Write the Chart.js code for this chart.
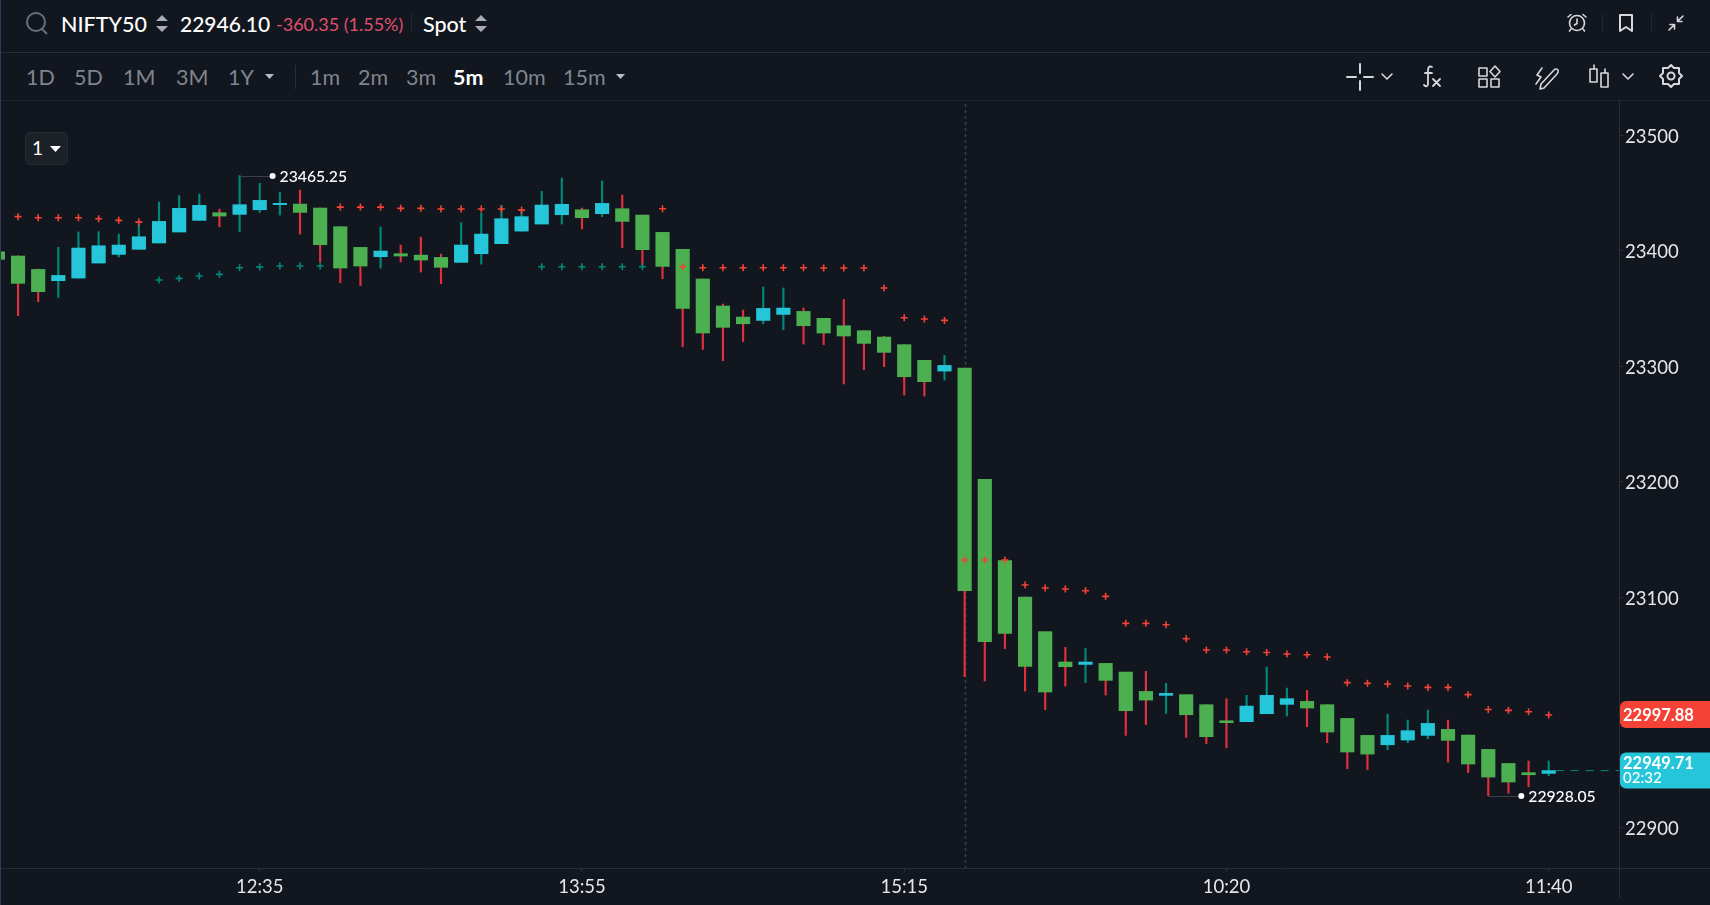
<!DOCTYPE html>
<html>
<head>
<meta charset="utf-8">
<title>NIFTY50</title>
<script src="https://cdn.jsdelivr.net/npm/chart.js@4"></script>
<style>
  html, body { margin: 0; padding: 0; width: 1710px; height: 905px; overflow: hidden; background: #12161e; }
  body { position: relative; font-family: Lato, sans-serif; color: #fff; }
  #edge { position: absolute; left: 0; top: 0; width: 1px; height: 905px; background: #35355e; z-index: 5; }
  #row1 { position: absolute; left: 0; top: 0; width: 1710px; height: 52px; border-bottom: 1px solid #2a2e36; }
  #row2 { position: absolute; left: 0; top: 53px; width: 1710px; height: 47px; border-bottom: 1px solid #1d2128; }
  .t { position: absolute; white-space: nowrap; line-height: 24px; }
  .head { top: 12px; font-size: 21.5px; font-weight: 500; }
  .tf { top: 12px; font-size: 21.5px; color: #7f858f; }
  svg { position: absolute; overflow: visible; }
  .ic { fill: none; stroke: #d5d8dc; stroke-width: 1.6; stroke-linecap: round; stroke-linejoin: round; }
  #chartWrap { position: absolute; left: 0; top: 100px; width: 1710px; height: 805px; }
  #badge { position: absolute; left: 25px; top: 132px; width: 41px; height: 31px; background: #1c2128; border: 1px solid #262b33; border-radius: 5px; z-index: 3; }
</style>
</head>
<body>
<div id="edge"></div>

<div id="row1">
  <svg style="left:0;top:0" width="60" height="52"><circle cx="36" cy="22" r="9" fill="none" stroke="#6b7078" stroke-width="2"/><line x1="42" y1="29" x2="47" y2="34" stroke="#6b7078" stroke-width="2"/></svg>
  <span class="t head" style="left:61px">NIFTY50</span>
  <svg style="left:155px;top:15px" width="16" height="20"><path d="M1 6 L7 0 L13 6 Z M1 11 L13 11 L7 17 Z" fill="#a9adb3"/></svg>
  <span class="t head" style="left:180px;font-size:21px">22946.10</span>
  <span class="t" style="left:276px;top:12px;font-size:18px;color:#e0506e">-360.35 (1.55%)</span>
  <div style="position:absolute;left:411px;top:14px;width:1px;height:18px;background:#23272e"></div>
  <span class="t head" style="left:423px">Spot</span>
  <svg style="left:474px;top:15px" width="16" height="20"><path d="M1 6 L7 0 L13 6 Z M1 11 L13 11 L7 17 Z" fill="#a9adb3"/></svg>

  <svg class="ic" style="left:1567px;top:13px" width="20" height="20"><circle cx="10" cy="10" r="7.5"/><path d="M10 6 V10.5 L7.5 12 M1 4 L4 1.5 M19 4 L16 1.5 M4 16 L2.5 18 M16 16 L17.5 18"/></svg>
  <div style="position:absolute;left:1602px;top:14px;width:1px;height:18px;background:#23272e"></div>
  <svg class="ic" style="left:1619px;top:14px" width="14" height="18" ><path d="M1 1 H13 V17 L7 13 L1 17 Z" stroke-width="2"/></svg>
  <div style="position:absolute;left:1651px;top:14px;width:1px;height:18px;background:#23272e"></div>
  <svg class="ic" style="left:1668px;top:15px" width="16" height="16"><path d="M1 15 L6.5 9.5 M6.5 14 V9.5 H2 M15 1 L9.5 6.5 M9.5 2 V6.5 H14"/></svg>
</div>

<div id="row2">
  <span class="t tf" style="left:26px">1D</span>
  <span class="t tf" style="left:74px">5D</span>
  <span class="t tf" style="left:123px">1M</span>
  <span class="t tf" style="left:176px">3M</span>
  <span class="t tf" style="left:228px">1Y</span>
  <svg style="left:264px;top:20px" width="12" height="8"><path d="M1 1 H10 L5.5 6 Z" fill="#b9bcc1"/></svg>
  <div style="position:absolute;left:295px;top:12px;width:1px;height:24px;background:#2a2e36"></div>
  <span class="t tf" style="left:310px">1m</span>
  <span class="t tf" style="left:358px">2m</span>
  <span class="t tf" style="left:406px">3m</span>
  <span class="t tf" style="left:453px;color:#fff;font-weight:700">5m</span>
  <span class="t tf" style="left:503px">10m</span>
  <span class="t tf" style="left:563px">15m</span>
  <svg style="left:615px;top:20px" width="12" height="8"><path d="M1 1 H10 L5.5 6 Z" fill="#b9bcc1"/></svg>

  <svg class="ic" style="left:1347px;top:11px" width="26" height="26"><path d="M0 13 H9 M17 13 H26 M13 0 V9 M13 17 V26" stroke-width="2"/></svg>
  <svg class="ic" style="left:1381px;top:20px" width="12" height="8"><path d="M1 1 L6 6 L11 1"/></svg>
  <svg class="ic" style="left:1423px;top:12px" width="20" height="24"><path d="M9 2 C6 0 5 3 5 6 V18 C5 22 3 22 1 20 M2 8 H9 M10 14 L17 21 M17 14 L10 21" stroke-width="1.8"/></svg>
  <svg class="ic" style="left:1478px;top:12px" width="24" height="24"><rect x="1" y="3" width="8" height="8"/><rect x="1" y="14" width="8" height="8"/><rect x="13" y="14" width="8" height="8"/><path d="M17 1 L22 6.5 L17 12 L12 6.5 Z"/></svg>
  <svg class="ic" style="left:1534px;top:12px" width="26" height="26"><path d="M7 19 L20 5 Q22 3 24 5 Q25 7 23 9 L10 23 L6 24 Z M8 3 L3 10 L7 12 L2 19"/></svg>
  <svg class="ic" style="left:1589px;top:11px" width="22" height="26"><path d="M5 1 V5 M16 5 V9"/><rect x="1" y="5" width="7" height="13"/><rect x="12" y="9" width="7" height="14"/></svg>
  <svg class="ic" style="left:1622px;top:20px" width="12" height="8"><path d="M1 1 L6 6 L11 1"/></svg>
  <svg class="ic" style="left:1659px;top:11px" width="24" height="24"><path d="M12 1 L15 4 H20 V9 L23 12 L20 15 V20 H15 L12 23 L9 20 H4 V15 L1 12 L4 9 V4 H9 Z" stroke-width="2"/><circle cx="12" cy="12" r="3.5" stroke-width="2"/></svg>
</div>

<div id="chartWrap"><canvas id="priceChart" width="1710" height="805"></canvas></div>

<div id="badge">
  <span class="t" style="left:6px;top:3px;font-size:19px">1</span>
  <svg style="left:23px;top:12px" width="13" height="8"><path d="M1 1 H12 L6.5 7 Z" fill="#fff"/></svg>
</div>

<script>
const times = [
  "11:30","11:35","11:40","11:45","11:50","11:55","12:00","12:05","12:10","12:15",
  "12:20","12:25","12:30","12:35","12:40","12:45","12:50","12:55","13:00","13:05",
  "13:10","13:15","13:20","13:25","13:30","13:35","13:40","13:45","13:50","13:55",
  "14:00","14:05","14:10","14:15","14:20","14:25","14:30","14:35","14:40","14:45",
  "14:50","14:55","15:00","15:05","15:10","15:15","15:20","15:25","09:15","09:20",
  "09:25","09:30","09:35","09:40","09:45","09:50","09:55","10:00","10:05","10:10",
  "10:15","10:20","10:25","10:30","10:35","10:40","10:45","10:50","10:55","11:00",
  "11:05","11:10","11:15","11:20","11:25","11:30","11:35","11:40"
];

const opens = [
  23399.3,23395.6,23384.0,23374.2,23376.5,23389.5,23397.0,23401.4,23406.9,23416.4,
  23426.5,23433.1,23431.7,23435.7,23440.1,23440.6,23437.2,23421.0,23403.1,23395.0,
  23397.6,23396.4,23394.4,23390.1,23397.6,23406.3,23417.2,23423.3,23431.4,23435.7,
  23432.3,23436.6,23431.1,23416.1,23401.4,23375.7,23352.3,23342.7,23339.8,23345.0,
  23347.6,23341.6,23335.2,23330.9,23325.4,23318.8,23305.2,23295.9,23298.5,23202.1,
  23131.6,23100.1,23070.1,23043.8,23041.7,23042.6,23035.1,23018.3,23014.9,23015.5,
  23006.8,22992.9,22992.1,22999.0,23007.1,23009.7,23006.8,22994.9,22980.2,22972.1,
  22976.2,22980.2,22985.4,22980.5,22968.1,22955.9,22947.9,22947.3
];
const highs = [
  23400.0,23395.9,23384.4,23403.1,23416.4,23416.7,23414.6,23423.3,23442.4,23447.9,
  23449.3,23436.3,23465.25,23458.6,23451.0,23452.8,23437.2,23421.0,23403.1,23420.7,
  23405.1,23412.0,23397.3,23424.5,23432.6,23439.5,23434.0,23451.6,23463.2,23437.2,
  23460.6,23448.4,23431.1,23416.1,23401.4,23375.7,23354.0,23348.8,23368.7,23367.9,
  23350.5,23341.6,23358.0,23330.9,23326.0,23318.8,23305.2,23309.5,23298.5,23202.1,
  23131.6,23100.1,23070.1,23056.5,23055.6,23042.6,23035.1,23035.7,23025.3,23015.5,
  23006.8,23012.0,23014.9,23039.4,23021.2,23019.2,23006.8,22994.9,22980.2,22998.7,
  22993.5,23002.2,22993.5,22980.5,22968.1,22955.9,22958.0,22958.0
];
const lows = [
  23392.7,23343.9,23356.0,23359.8,23376.5,23389.5,23394.7,23401.4,23406.9,23416.4,
  23426.5,23421.0,23416.7,23433.4,23431.1,23414.6,23390.4,23372.5,23369.9,23385.2,
  23390.4,23381.7,23371.6,23390.1,23388.6,23406.3,23417.2,23423.3,23423.3,23419.0,
  23429.7,23402.8,23386.3,23375.9,23317.0,23314.7,23304.9,23321.6,23336.9,23331.7,
  23319.3,23318.8,23284.7,23297.1,23299.7,23275.1,23274.3,23288.1,23031.1,23027.3,
  23055.3,23018.6,23002.5,23023.0,23025.9,23015.2,22980.2,22989.5,22999.3,22978.5,
  22973.0,22969.5,22992.1,22999.0,22997.0,22987.7,22973.9,22951.3,22950.5,22967.8,
  22973.9,22977.3,22957.1,22947.9,22928.05,22930.2,22935.7,22945.3
];
const closes = [
  23392.7,23371.9,23364.7,23378.8,23402.5,23404.5,23405.1,23412.3,23425.6,23436.9,
  23439.5,23430.2,23440.1,23443.8,23441.2,23433.4,23405.4,23385.2,23386.9,23399.9,
  23395.6,23392.1,23385.8,23405.1,23414.6,23427.9,23429.7,23439.8,23440.4,23428.8,
  23441.2,23425.6,23401.1,23386.6,23350.2,23328.9,23333.8,23336.9,23350.2,23350.5,
  23335.2,23328.9,23326.3,23319.9,23312.1,23291.0,23286.7,23300.8,23105.6,23061.4,
  23068.6,23040.0,23017.8,23039.7,23043.8,23027.9,23001.6,23010.8,23016.6,22998.1,
  22979.1,22991.2,23005.6,23014.9,23012.0,23003.9,22983.1,22965.8,22964.0,22980.2,
  22984.3,22990.6,22975.9,22955.4,22944.1,22939.8,22946.1,22949.71
];

const sarRed = [
  null,23429.7,23428.8,23428.8,23428.8,23427.9,23426.5,23425.0,null,null,
  null,null,null,null,null,null,null,23438.0,23438.0,23438.0,
  23436.9,23436.9,23436.3,23436.3,23436.3,23436.3,23435.4,null,null,null,
  null,null,null,23436.6,23386.3,23385.5,23385.5,23385.5,23385.5,23385.5,
  23385.5,23385.2,23385.2,23385.2,23367.9,23342.1,23341.0,23339.8,23132.2,23132.2,
  23132.2,23110.5,23107.9,23107.0,23105.6,23100.7,23077.3,23077.3,23076.1,23064.0,
  23054.2,23054.2,23052.7,23052.1,23050.7,23050.1,23048.1,23025.9,23025.3,23024.7,
  23023.0,23021.8,23021.8,23015.5,23002.7,23001.9,23000.7,22997.88
];
const sarTeal = [
  null,null,null,null,null,null,null,null,23374.8,23376.2,
  23378.3,23379.7,23385.5,23386.0,23386.9,23386.9,23386.9,null,null,null,
  null,null,null,null,null,null,null,23386.3,23386.3,23386.3,
  23386.3,23386.3,23386.3
];

const yTicks = [22900, 23000, 23100, 23200, 23300, 23400, 23500];
const xTickIndex = [13, 29, 45, 61, 77];
const highIndex = 12, lowIndex = 74, sessionIndex = 48;
const lastSar = 22997.88, lastPrice = 22949.71, countdown = "02:32";

const GREEN = "#4caf50", CYAN = "#26c6da", WICK_RED = "#e0303f", WICK_TEAL = "#00897b";
const isUp = i => closes[i] > opens[i];
const num = v => v.toFixed(2);
const noPadding = s => { s.paddingLeft = s.paddingRight = s.paddingTop = s.paddingBottom = 0; };

const overlayPlugin = {
  id: "overlay",
  beforeDatasetsDraw(chart) {
    const { ctx, scales: { x }, chartArea } = chart;
    const px = Math.round(x.getPixelForValue(sessionIndex)) + 0.5;
    ctx.save();
    ctx.strokeStyle = "#3b404a";
    ctx.lineWidth = 1.5;
    ctx.setLineDash([3, 3]);
    ctx.beginPath();
    ctx.moveTo(px, chartArea.top + 4);
    ctx.lineTo(px, chartArea.bottom);
    ctx.stroke();
    ctx.restore();
  },
  afterDraw(chart) {
    const { ctx, scales: { x, y }, chartArea } = chart;
    ctx.save();

    // axis frame
    ctx.strokeStyle = "#2a2e36";
    ctx.beginPath();
    ctx.moveTo(0, chartArea.bottom + 0.5);
    ctx.lineTo(chart.width, chartArea.bottom + 0.5);
    ctx.moveTo(chartArea.right + 0.5, 0);
    ctx.lineTo(chartArea.right + 0.5, chartArea.bottom + 30);
    ctx.stroke();

    // last price line
    const lastY = y.getPixelForValue(lastPrice);
    ctx.strokeStyle = WICK_TEAL;
    ctx.setLineDash([8, 7]);
    ctx.beginPath();
    ctx.moveTo(x.getPixelForValue(times.length - 1) + 7, lastY);
    ctx.lineTo(chartArea.right, lastY);
    ctx.stroke();
    ctx.setLineDash([]);

    // high and low markers
    [[highIndex, highs[highIndex]], [lowIndex, lows[lowIndex]]].forEach(([i, v]) => {
      const mx = x.getPixelForValue(i), my = Math.round(y.getPixelForValue(v));
      ctx.strokeStyle = "#3b404a";
      ctx.beginPath();
      ctx.moveTo(mx, my + 0.5);
      ctx.lineTo(mx + 33, my + 0.5);
      ctx.stroke();
      ctx.fillStyle = "#fff";
      ctx.beginPath();
      ctx.arc(mx + 33, my, 3, 0, Math.PI * 2);
      ctx.fill();
      ctx.font = "500 15.7px Lato";
      ctx.textBaseline = "middle";
      ctx.textAlign = "left";
      ctx.fillText(num(v), mx + 40, my + 1);
    });

    // price tags on the axis
    const left = chartArea.right + 1;
    const sarY = y.getPixelForValue(lastSar);
    ctx.fillStyle = "#f44336";
    ctx.beginPath();
    ctx.roundRect(left, sarY - 14, chart.width - left, 27, [6, 0, 0, 6]);
    ctx.fill();
    ctx.fillStyle = CYAN;
    ctx.beginPath();
    ctx.roundRect(left, lastY - 18, chart.width - left, 36, [6, 0, 0, 6]);
    ctx.fill();
    ctx.fillStyle = "#fff";
    ctx.textAlign = "left";
    ctx.font = "700 16.5px Lato";
    ctx.fillText(num(lastSar), left + 3, sarY + 0.5);
    ctx.fillText(num(lastPrice), left + 3, lastY - 7);
    ctx.font = "500 15px Lato";
    ctx.fillText(countdown, left + 3, lastY + 8);
    ctx.restore();
  }
};

const chart = new Chart(document.getElementById("priceChart").getContext("2d"), {
  type: "bar",
  plugins: [overlayPlugin],
  data: {
    datasets: [
      {
        type: "line",
        order: 0,
        showLine: false,
        pointStyle: "cross",
        pointRadius: 3.5,
        pointBorderWidth: 1.6,
        pointBorderColor: "#f44336",
        data: sarRed.map((v, i) => ({ x: i, y: v }))
      },
      {
        type: "line",
        order: 0,
        showLine: false,
        pointStyle: "cross",
        pointRadius: 3.5,
        pointBorderWidth: 1.6,
        pointBorderColor: "#00897b",
        data: sarTeal.map((v, i) => ({ x: i, y: v }))
      },
      {
        order: 1,
        barThickness: 13.5,
        grouped: false,
        backgroundColor: times.map((t, i) => isUp(i) ? CYAN : GREEN),
        data: times.map((t, i) => ({ x: i, y: [opens[i], closes[i]] }))
      },
      {
        order: 2,
        barThickness: 1.5,
        grouped: false,
        backgroundColor: times.map((t, i) => isUp(i) ? WICK_TEAL : WICK_RED),
        data: times.map((t, i) => ({ x: i, y: [lows[i], highs[i]] }))
      }
    ]
  },
  options: {
    responsive: false,
    animation: false,
    events: [],
    layout: { padding: 0, autoPadding: false },
    plugins: { legend: { display: false }, tooltip: { enabled: false } },
    scales: {
      x: {
        type: "linear",
        offset: false,
        min: 0.104,
        max: 80.49,
        grid: { offset: false, drawOnChartArea: false, tickLength: 4, tickColor: "#2a2e36" },
        border: { display: false },
        afterBuildTicks: s => { s.ticks = xTickIndex.map(v => ({ value: v })); },
        afterFit: s => { s.height = 37; noPadding(s); },
        ticks: {
          autoSkip: false,
          maxRotation: 0,
          padding: 4,
          color: "#e6e7e9",
          font: { family: "Lato", size: 18.5 },
          callback: v => times[v]
        }
      },
      y: {
        position: "right",
        min: 22865.3,
        max: 23530.8,
        grid: { drawOnChartArea: false, tickLength: 4, tickColor: "#2a2e36" },
        border: { display: false },
        afterBuildTicks: s => { s.ticks = yTicks.map(v => ({ value: v })); },
        afterFit: s => { s.width = 91; noPadding(s); },
        ticks: {
          padding: 2,
          labelOffset: 1.5,
          color: "#e6e7e9",
          font: { family: "Lato", size: 18.5 },
          callback: v => String(v)
        }
      }
    }
  }
});
</script>
</body>
</html>
